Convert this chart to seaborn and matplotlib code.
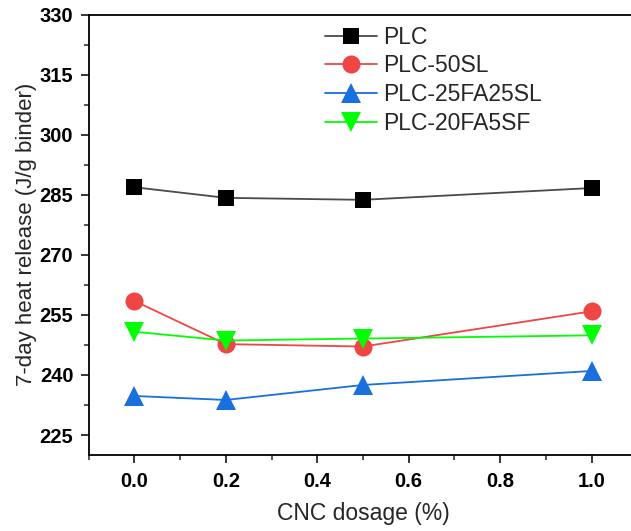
import matplotlib
matplotlib.use("Agg")
import matplotlib.pyplot as plt
import seaborn as sns
import pandas as pd
from matplotlib.ticker import MultipleLocator

sns.set_theme(style="ticks")
plt.rcParams['font.family'] = ['Liberation Sans', 'DejaVu Sans']

dosage = [0.0, 0.2, 0.5, 1.0]
plc = [286.9, 284.25, 283.75, 286.7]
plc_50sl = [258.5, 247.7, 247.1, 255.9]
plc_25fa25sl = [234.75, 233.75, 237.5, 241.0]
plc_20fa5sf = [250.8, 248.6, 249.1, 249.9]

series = [
    ("PLC", plc, "#000000", "#4a4a4a", "s", 11),
    ("PLC-50SL", plc_50sl, "#F04545", "#F04545", "o", 13),
    ("PLC-25FA25SL", plc_25fa25sl, "#1A6FDF", "#1A6FDF", "^", 14),
    ("PLC-20FA5SF", plc_20fa5sf, "#00FF00", "#00FF00", "v", 14),
]

fig = plt.figure(figsize=(6.31, 5.31), dpi=100)
ax = fig.add_axes([0.1404, 0.1431, 0.8697, 0.8292])

for name, vals, mcolor, lcolor, marker, ms in series:
    df = pd.DataFrame({"x": dosage, "y": vals})
    sns.lineplot(data=df, x="x", y="y", ax=ax, color=lcolor, lw=1.3,
                 marker=marker, markersize=ms, markerfacecolor=mcolor,
                 markeredgecolor=mcolor, markeredgewidth=0, label=name)

ax.set_xlim(-0.1, 1.1)
ax.set_ylim(220, 330)
ax.set_xticks([0.0, 0.2, 0.4, 0.6, 0.8, 1.0])
ax.set_xticklabels(["0.0", "0.2", "0.4", "0.6", "0.8", "1.0"])
ax.set_yticks([225, 240, 255, 270, 285, 300, 315, 330])
ax.xaxis.set_minor_locator(MultipleLocator(0.1))
ax.yaxis.set_minor_locator(MultipleLocator(7.5))
ax.tick_params(which="major", direction="out", length=6, width=1.1, labelsize=14.5, colors="black")
ax.tick_params(axis="x", which="major", pad=6)
ax.tick_params(axis="y", which="major", pad=5)
ax.tick_params(which="minor", direction="out", length=3.5, width=1.1)
ax.tick_params(top=False, right=False)
for lab in ax.get_xticklabels() + ax.get_yticklabels():
    lab.set_fontweight("bold")
for sp in ax.spines.values():
    sp.set_linewidth(1.3)
    sp.set_color("black")

ax.set_xlabel("CNC dosage (%)", fontsize=16.5, labelpad=8)
ax.set_ylabel("7-day heat release (J/g binder)", fontsize=16, labelpad=2)

leg = ax.legend(loc="upper left", bbox_to_anchor=(0.431, 0.975), frameon=False,
                fontsize=16.5, handlelength=2.27, labelspacing=0.25, handletextpad=0.27,
                borderaxespad=0.0, borderpad=0.0)

fig.savefig("out.png", dpi=100)
